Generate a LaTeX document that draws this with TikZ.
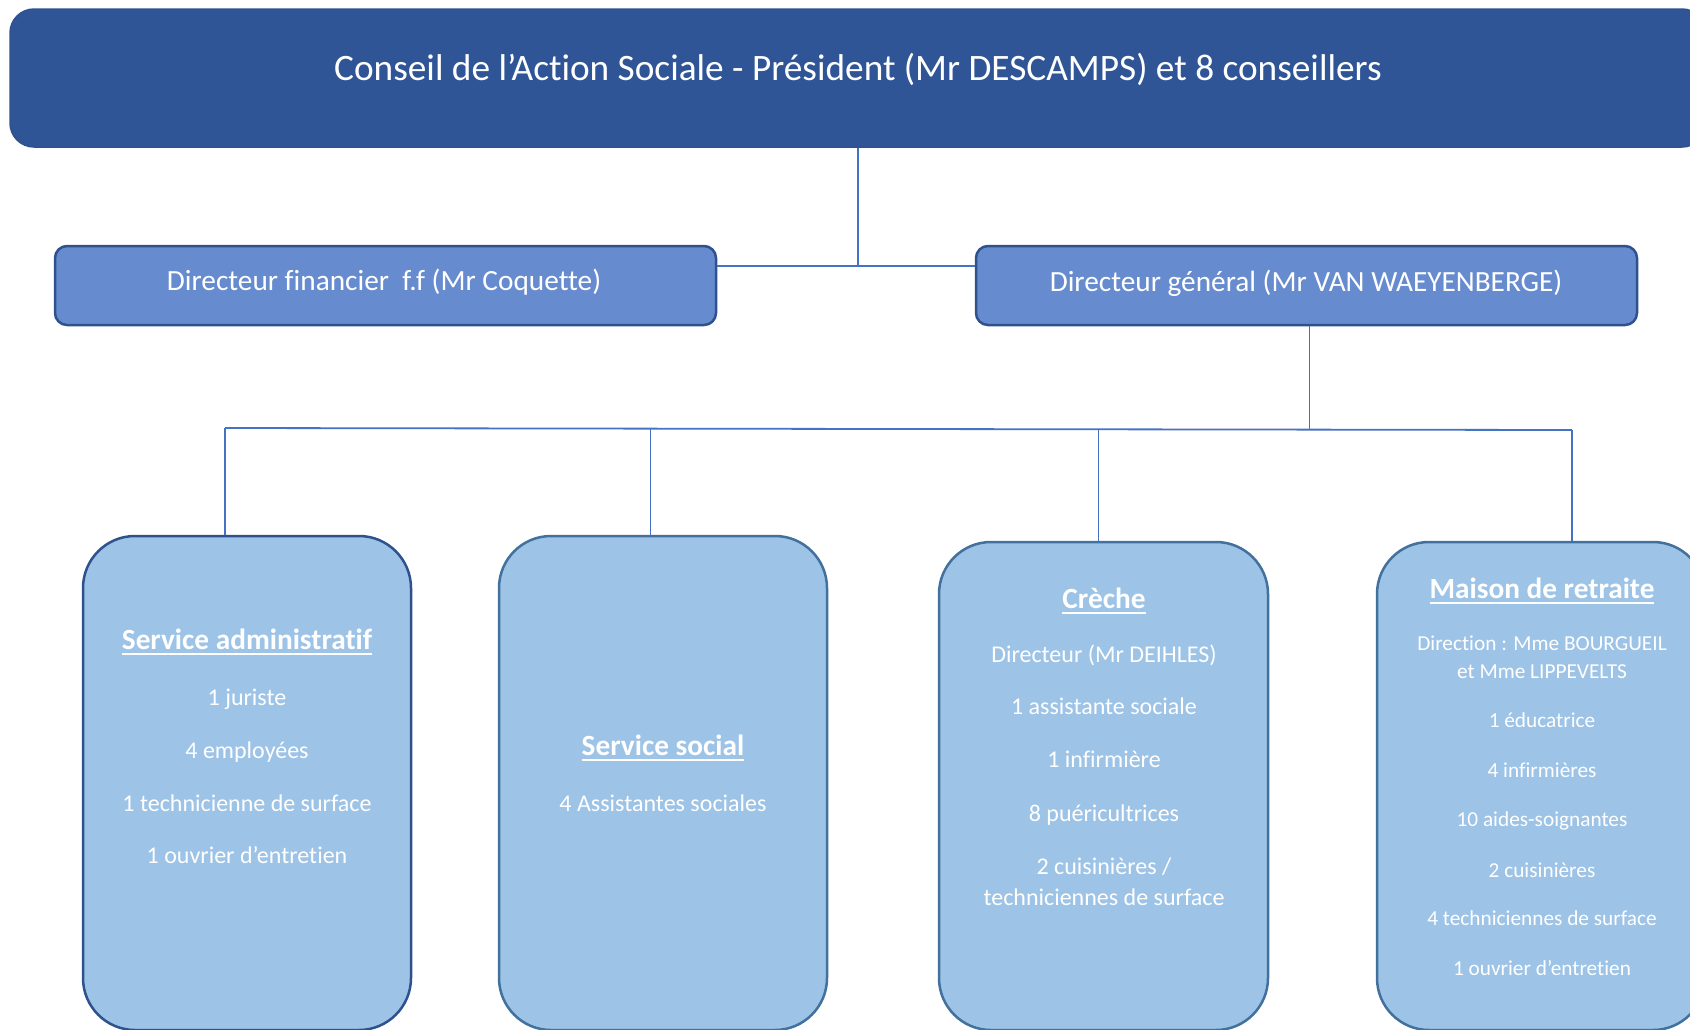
\documentclass[tikz,border=0pt]{standalone}
\usepackage{fontspec}
\setmainfont{Carlito}[Ligatures=NoCommon]
\definecolor{bannerfill}{HTML}{2F5597}
\definecolor{bannerline}{HTML}{2F528F}
\definecolor{dirfill}{HTML}{678BCF}
\definecolor{dirline}{HTML}{2F528F}
\definecolor{boxfill}{HTML}{9DC3E6}
\definecolor{boxline}{HTML}{41719C}
\definecolor{conncol}{HTML}{4472C4}
\newcommand\ulc[1]{\setbox0=\hbox{#1}\rlap{\rule[-5.5pt]{\wd0}{1.8pt}}\box0}
\newcommand\fsbanner{\fontsize{37.3pt}{44pt}\selectfont}
\newcommand\fsdir{\fontsize{29.3pt}{35pt}\selectfont}
\newcommand\fstitle{\fontsize{29.3pt}{35pt}\selectfont\bfseries}
\newcommand\fsbody{\fontsize{24pt}{29pt}\selectfont}
\newcommand\fssmall{\fontsize{21.3pt}{26pt}\selectfont}
\tikzset{
  banner/.style={draw=bannerline, line width=1.5pt, fill=bannerfill, rounded corners=24pt, inner sep=0pt},
  dirbox/.style={draw=dirline, line width=2.5pt, fill=dirfill, rounded corners=12pt, inner sep=0pt},
  unitbox/.style={draw=boxline, line width=2.5pt, fill=boxfill, rounded corners=52pt, inner sep=0pt},
  txt/.style={text=white, inner sep=0pt, anchor=base},
  conn/.style={draw=conncol, line width=1.3pt}
}
\begin{document}
\begin{tikzpicture}[x=1pt,y=-1pt]
\useasboundingbox (0,0) rectangle (1690,1029);
\clip (0,0) rectangle (1690,1029);
\fill[white] (0,0) rectangle (1690,1029);

% boxes
\node[banner, minimum width=1696pt, minimum height=138pt] (banner) at (858,78) {};
\node[dirbox, minimum width=661pt, minimum height=79pt] (fin) at (385.5,285.5) {};
\node[dirbox, minimum width=661pt, minimum height=79pt] (gen) at (1306.5,285.5) {};
\node[unitbox, draw=bannerline, minimum width=328pt, minimum height=494pt] (b1) at (247,783) {};
\node[unitbox, minimum width=328pt, minimum height=494pt] (b2) at (663,783) {};
\node[unitbox, minimum width=329pt, minimum height=488pt] (b3) at (1103.5,786) {};
\node[unitbox, minimum width=328pt, minimum height=488pt] (b4) at (1541,786) {};

% connectors
\coordinate (j1) at (858,266);
\draw[conn] (banner.south) -- (j1);
\draw[conn] (fin.east |- j1) -- (gen.west |- j1);
\coordinate (busL) at (225,428);
\coordinate (busR) at (1572,430);
\coordinate (jg) at (1309.5,429.6);
\coordinate (d2) at (650.5,429);
\coordinate (d3) at (1098.5,429.7);
\draw[conn] (gen.south -| jg) -- (jg);
\draw[conn, line width=1.8pt] (busL) -- (busR);
\draw[conn] (busL) -- (busL |- b1.north);
\draw[conn] (d2) -- (d2 |- b2.north);
\draw[conn] (d3) -- (d3 |- b3.north);
\draw[conn] (busR) -- (busR |- b4.north);

% texts
\node[txt] (tban) at (858,80) {\fsbanner Conseil de l’Action Sociale - Président (Mr DESCAMPS) et 8 conseillers};
\node[txt] (tfin) at (384,290) {\fsdir Directeur financier\ \ f.f (Mr Coquette)};
\node[txt] (tgen) at (1306,291) {\fsdir Directeur général (Mr VAN WAEYENBERGE)};

\node[txt] (t1h) at (247,649) {\fstitle\ulc{Service administratif}};
\node[txt] (t1a) at (247,705) {\fsbody 1 juriste};
\node[txt] (t1b) at (247,758) {\fsbody 4 employées};
\node[txt] (t1c) at (247,811) {\fsbody 1 technicienne de surface};
\node[txt] (t1d) at (247,863) {\fsbody 1 ouvrier d’entretien};

\node[txt] (t2h) at (663,755) {\fstitle\ulc{Service social}};
\node[txt] (t2a) at (663,811) {\fsbody 4 Assistantes sociales};

\node[txt] (t3h) at (1104,608) {\fstitle\ulc{Crèche}};
\node[txt] (t3a) at (1104,662) {\fsbody Directeur (Mr DEIHLES)};
\node[txt] (t3b) at (1104,714) {\fsbody 1 assistante sociale};
\node[txt] (t3c) at (1104,767) {\fsbody 1 infirmière};
\node[txt] (t3d) at (1104,821) {\fsbody 8 puéricultrices};
\node[txt] (t3e) at (1104,874) {\fsbody 2 cuisinières /};
\node[txt] (t3f) at (1104,905) {\fsbody techniciennes de surface};

\node[txt] (t4h) at (1542,598) {\fstitle\ulc{Maison de retraite}};
\node[txt] (t4a) at (1542,650) {\fssmall Direction : Mme BOURGUEIL};
\node[txt] (t4b) at (1542,678) {\fssmall et Mme LIPPEVELTS};
\node[txt] (t4c) at (1542,727) {\fssmall 1 éducatrice};
\node[txt] (t4d) at (1542,777) {\fssmall 4 infirmières};
\node[txt] (t4e) at (1542,826) {\fssmall 10 aides-soignantes};
\node[txt] (t4f) at (1542,877) {\fssmall 2 cuisinières};
\node[txt] (t4g) at (1542,925) {\fssmall 4 techniciennes de surface};
\node[txt] (t4h2) at (1542,975) {\fssmall 1 ouvrier d’entretien};
\end{tikzpicture}
\end{document}
